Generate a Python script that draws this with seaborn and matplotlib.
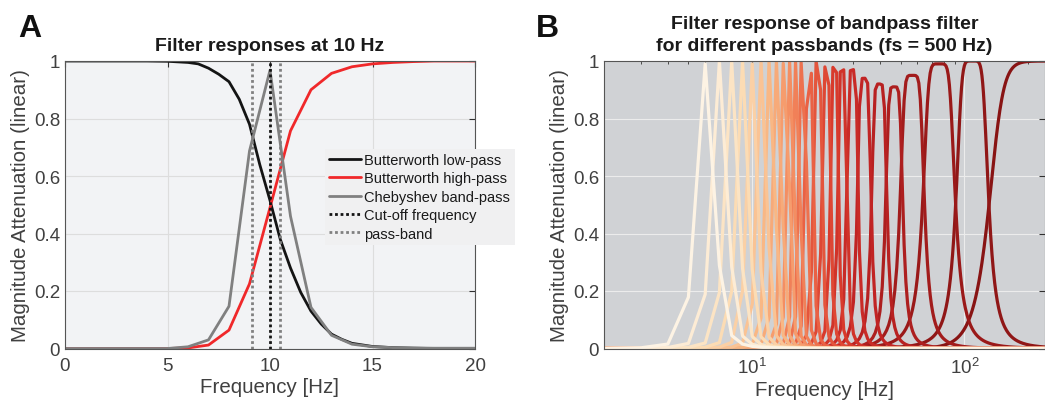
import numpy as np
import pandas as pd
import matplotlib
matplotlib.use("Agg")
import matplotlib.pyplot as plt
import seaborn as sns
from matplotlib.colors import LinearSegmentedColormap
from matplotlib.ticker import FixedLocator, FuncFormatter, LogLocator, NullFormatter

# ---------------- Panel A data ----------------
freq_lp = [0, 1, 2, 3, 4, 5, 6, 6.5, 7, 7.5, 8, 8.5, 9, 9.5, 10, 10.5, 11, 11.5,
           12, 12.5, 13, 13.5, 14, 15, 16, 17, 18, 19, 20]
lowpass = [1.0, 1.0, 1.0, 1.0, 1.0, 0.999, 0.995, 0.99, 0.975, 0.954, 0.928, 0.867,
           0.78, 0.64, 0.515, 0.38, 0.28, 0.195, 0.13, 0.085, 0.05, 0.032, 0.018,
           0.007, 0.003, 0.001, 0.0, 0.0, 0.0]
freq_1hz = [0, 1, 2, 3, 4, 5, 6, 7, 8, 9, 10, 11, 12, 13, 14, 15, 16, 17, 18, 19, 20]
highpass = [0, 0, 0, 0, 0, 0, 0.002, 0.012, 0.064, 0.225, 0.49, 0.757, 0.90, 0.957,
            0.98, 0.99, 0.995, 0.998, 1.0, 1.0, 1.0]
bandpass = [0, 0, 0, 0, 0, 0, 0.006, 0.03, 0.147, 0.687, 0.968, 0.46, 0.143, 0.046,
            0.015, 0.006, 0.003, 0.002, 0.001, 0.001, 0.001]
cutoff_freq = 10
passband_edges = [9.1, 10.5]

# ---------------- Panel B data ----------------
# centre frequency, bandwidth (Hz), peak height and order of each band-pass curve
band_center = [6, 7, 8, 9, 10, 11.1, 12.2, 13.2, 14.3, 15.2, 16.2, 17.3, 18.6, 20.3,
               22.3, 24.4, 26.6, 29.7, 33.7, 39.7, 46.7, 56.8, 76.0, 109.0]
band_width = [1.25, 1.25, 1.25, 1.25, 1.25, 1.25, 1.2, 1.2, 1.2, 1.2, 1.2, 1.3, 1.45,
              1.75, 1.9, 2.0, 2.4, 3.2, 4.4, 5.8, 7.6, 13.0, 23.0, 33.0]
band_peak = [0.99, 1.0, 1.0, 1.0, 0.99, 1.0, 1.0, 1.0, 1.0, 1.0, 1.0, 1.0, 0.97,
             1.0, 0.98, 0.98, 0.97, 0.97, 0.94, 0.92, 0.91, 0.95, 0.99, 1.0]
band_order = [3] * 24
hp_edge = 140.0
hp_order = 8
fs = 500

# ---------------- style ----------------
sns.set_theme(style="white")
plt.rcParams["font.family"] = ["Liberation Sans", "DejaVu Sans"]
plt.rcParams["mathtext.default"] = "regular"
TXT = "#404040"
LAB = 14.8
TICK = 13.5
TITLE = 14.0
ramp = LinearSegmentedColormap.from_list(
    "ramp", ["#fdf3e4", "#fcdcb4", "#f9b784", "#f48f62", "#ea6244",
             "#d83a2c", "#c22424", "#a31c1c", "#881414"])

fig = plt.figure(figsize=(10.45, 4.14), dpi=100)
axA = fig.add_axes([65 / 1045, 64.5 / 414, 410 / 1045, 287.5 / 414])
axB = fig.add_axes([604 / 1045, 64.5 / 414, 441 / 1045, 287.5 / 414])

# ---------------- Panel A ----------------
axA.set_facecolor("#f2f3f5")
dfA_lp = pd.DataFrame({"f": freq_lp, "m": lowpass})
dfA = pd.DataFrame({"f": freq_1hz, "hp": highpass, "bp": bandpass})
sns.lineplot(data=dfA_lp, x="f", y="m", ax=axA, color="#141414", lw=2.0,
             label="Butterworth low-pass")
sns.lineplot(data=dfA, x="f", y="hp", ax=axA, color="#f0282a", lw=2.0,
             label="Butterworth high-pass")
sns.lineplot(data=dfA, x="f", y="bp", ax=axA, color="#808080", lw=2.0,
             label="Chebyshev band-pass")
axA.axvline(cutoff_freq, color="#141414", ls=(0, (1, 1)), lw=2.0, label="Cut-off frequency")
for i, e in enumerate(passband_edges):
    axA.axvline(e, color="#808080", ls=(0, (1, 1)), lw=2.0,
                label="pass-band" if i == 0 else None)
axA.set_xlim(0, 20)
axA.set_ylim(0, 1)
axA.xaxis.set_major_locator(FixedLocator([0, 5, 10, 15, 20]))
axA.yaxis.set_major_locator(FixedLocator([0, 0.2, 0.4, 0.6, 0.8, 1.0]))
axA.yaxis.set_major_formatter(FuncFormatter(lambda v, p: f"{v:g}"))
axA.grid(True, color="#dddddd", lw=0.8)
axA.set_axisbelow(True)
axA.set_xlabel("Frequency [Hz]", fontsize=LAB, color=TXT, labelpad=2)
axA.set_ylabel("Magnitude Attenuation (linear)", fontsize=LAB, color=TXT, labelpad=3)
axA.set_title("Filter responses at 10 Hz", fontsize=TITLE, fontweight="bold",
              color="#1a1a1a", pad=8)
leg = axA.legend(loc="upper left", bbox_to_anchor=(0.634, 0.695), fontsize=10.5,
                 frameon=True, facecolor="#f0f0f1", edgecolor="none", framealpha=1,
                 handlelength=2.2, handletextpad=0.2, labelspacing=0.3,
                 borderpad=0.3, borderaxespad=0, fancybox=False)
for t in leg.get_texts():
    t.set_color("#1a1a1a")

# ---------------- Panel B ----------------
axB.set_facecolor("#d0d2d5")
fgrid = np.arange(1, fs // 2 + 1, 1.0)
rows = []
n_curves = len(band_center) + 1
for i, (f0, bw, pk, n) in enumerate(zip(band_center, band_width, band_peak, band_order)):
    x = (fgrid ** 2 - f0 ** 2) / (fgrid * bw)
    mag = pk / np.sqrt(1 + x ** (2 * n))
    rows.append(pd.DataFrame({"f": fgrid, "m": mag, "c": i}))
mag_hp = 1 / np.sqrt(1 + (hp_edge / fgrid) ** (2 * hp_order))
rows.append(pd.DataFrame({"f": fgrid, "m": mag_hp, "c": n_curves - 1}))
dfB = pd.concat(rows, ignore_index=True)
pal = {i: ramp(i / (n_curves - 1)) for i in range(n_curves)}
sns.lineplot(data=dfB, x="f", y="m", hue="c", palette=pal,
             hue_order=list(range(n_curves))[::-1], ax=axB, lw=2.3,
             legend=False, sort=False, estimator=None)
axB.set_xscale("log")
axB.set_xlim(2, 240)
axB.set_ylim(0, 1)
axB.xaxis.set_major_locator(FixedLocator([10, 100]))
axB.xaxis.set_major_formatter(FuncFormatter(lambda v, p: r"$10^{%d}$" % round(np.log10(v))))
axB.xaxis.set_minor_locator(LogLocator(base=10, subs=np.arange(2, 10)))
axB.xaxis.set_minor_formatter(NullFormatter())
axB.yaxis.set_major_locator(FixedLocator([0, 0.2, 0.4, 0.6, 0.8, 1.0]))
axB.yaxis.set_major_formatter(FuncFormatter(lambda v, p: f"{v:g}"))
axB.grid(True, which="major", color="#ececec", lw=0.8)
axB.set_axisbelow(True)
axB.set_xlabel("Frequency [Hz]", fontsize=LAB, color=TXT, labelpad=2)
axB.set_ylabel("Magnitude Attenuation (linear)", fontsize=LAB, color=TXT, labelpad=3)
axB.set_title("Filter response of bandpass filter\nfor different passbands (fs = 500 Hz)",
              fontsize=TITLE, fontweight="bold", color="#1a1a1a", pad=8, linespacing=1.35)

for ax in (axA, axB):
    ax.tick_params(axis="both", which="both", direction="in", colors="#303030",
                   labelcolor=TXT, labelsize=TICK, top=True, right=True)
    ax.tick_params(axis="both", which="major", length=4, width=0.8)
    ax.tick_params(axis="both", which="minor", length=2, width=0.6)
    ax.tick_params(axis="x", pad=6)
    for s in ax.spines.values():
        s.set_color("#555555")
        s.set_linewidth(0.8)

fig.text(18 / 1045, 1 - 37 / 414, "A", fontsize=23, fontweight="bold", color="#111111")
fig.text(536 / 1045, 1 - 37 / 414, "B", fontsize=23, fontweight="bold", color="#111111")

fig.savefig("out.png", dpi=100)
